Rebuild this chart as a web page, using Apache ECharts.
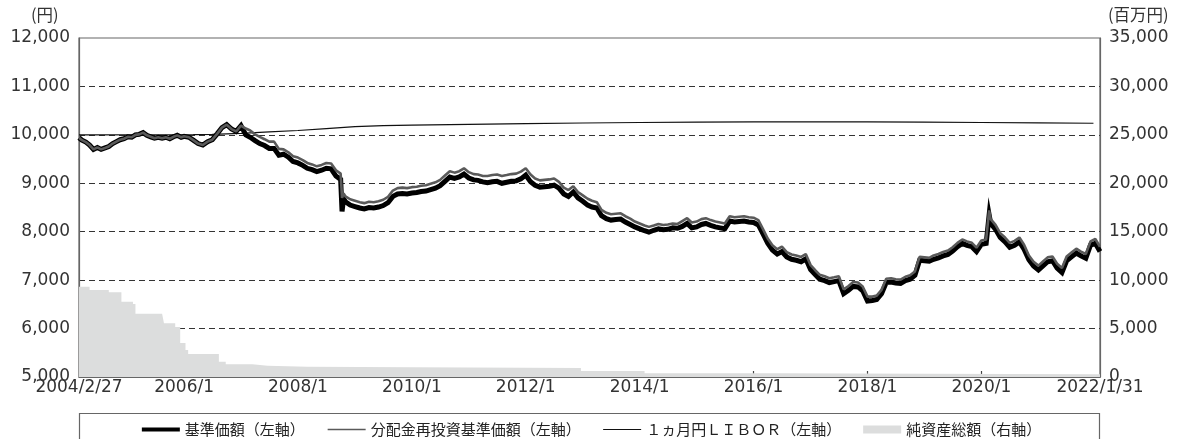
<!DOCTYPE html>
<html>
<head>
<meta charset="utf-8">
<script src="https://cdn.jsdelivr.net/npm/echarts@6/dist/echarts.min.js"></script>
<style>
  html, body { margin: 0; padding: 0; background: #fff; }
  #chart { width: 1181px; height: 439px; }
</style>
</head>
<body>
<div id="chart"></div>
<script>
(function () {
    'use strict';

    // x軸 目盛・ラベル
    var xTickDates = ['2006-01-01', '2008-01-01', '2010-01-01', '2012-01-01', '2014-01-01', '2016-01-01', '2018-01-01', '2020-01-01'];
    var xLabelDates = ['2004-02-27', '2006-01-01', '2008-01-01', '2010-01-01', '2012-01-01', '2014-01-01', '2016-01-01', '2018-01-01', '2020-01-01', '2022-01-31'];
    var xLabels = ['2004/2/27', '2006/1', '2008/1', '2010/1', '2012/1', '2014/1', '2016/1', '2018/1', '2020/1', '2022/1/31'];

    // 基準価額 / 分配金再投資基準価額 (円)
    var navDates = [
        '2004-02-27', '2004-03-17', '2004-04-11', '2004-05-05', '2004-05-30', '2004-06-24', '2004-07-18', '2004-08-12', '2004-09-05', '2004-09-30', '2004-10-24', '2004-11-17', '2004-12-12',
        '2005-01-05', '2005-01-30', '2005-02-23', '2005-03-19', '2005-04-13', '2005-05-07', '2005-06-01', '2005-06-25', '2005-07-19', '2005-08-13', '2005-09-06', '2005-10-01', '2005-10-25', '2005-11-18', '2005-12-13',
        '2006-01', '2006-02', '2006-03', '2006-04', '2006-05', '2006-06', '2006-07', '2006-08', '2006-09', '2006-10', '2006-11', '2006-12',
        '2007-01', '2007-02', '2007-03', '2007-04', '2007-05', '2007-06', '2007-07', '2007-08', '2007-09', '2007-10', '2007-11', '2007-12',
        '2008-01', '2008-02', '2008-03', '2008-04', '2008-05', '2008-06', '2008-07', '2008-08', '2008-09', '2008-10', '2008-10-10', '2008-10-20', '2008-11', '2008-12',
        '2009-01', '2009-02', '2009-03', '2009-04', '2009-05', '2009-06', '2009-07', '2009-08', '2009-09', '2009-10', '2009-11', '2009-12',
        '2010-01', '2010-02', '2010-03', '2010-04', '2010-05', '2010-06', '2010-07', '2010-08', '2010-09', '2010-10', '2010-11', '2010-12',
        '2011-01', '2011-02', '2011-03', '2011-04', '2011-05', '2011-06', '2011-07', '2011-08', '2011-09', '2011-10', '2011-11', '2011-12',
        '2012-01', '2012-02', '2012-03', '2012-04', '2012-05', '2012-06', '2012-07', '2012-08', '2012-09', '2012-10', '2012-11', '2012-12',
        '2013-01', '2013-02', '2013-03', '2013-04', '2013-05', '2013-06', '2013-07', '2013-08', '2013-09', '2013-10', '2013-11', '2013-12',
        '2014-01', '2014-02', '2014-03', '2014-04', '2014-05', '2014-06', '2014-07', '2014-08', '2014-09', '2014-10', '2014-11', '2014-12',
        '2015-01', '2015-02', '2015-03', '2015-04', '2015-05', '2015-06', '2015-07', '2015-08', '2015-09', '2015-10', '2015-11', '2015-12',
        '2016-01', '2016-02', '2016-03', '2016-04', '2016-05', '2016-06', '2016-07', '2016-08', '2016-09', '2016-10', '2016-11', '2016-12',
        '2017-01', '2017-02', '2017-03', '2017-04', '2017-05', '2017-06', '2017-07', '2017-08', '2017-09', '2017-10', '2017-11', '2017-12',
        '2018-01', '2018-02', '2018-03', '2018-04', '2018-05', '2018-06', '2018-07', '2018-08', '2018-09', '2018-10', '2018-11', '2018-12',
        '2019-01', '2019-02', '2019-03', '2019-04', '2019-05', '2019-06', '2019-07', '2019-08', '2019-09', '2019-10', '2019-11', '2019-12',
        '2020-01', '2020-02', '2020-02-20', '2020-03', '2020-04', '2020-05', '2020-06', '2020-07', '2020-08', '2020-09', '2020-10', '2020-11', '2020-12',
        '2021-01', '2021-02', '2021-03', '2021-04', '2021-05', '2021-06', '2021-07', '2021-08', '2021-09', '2021-10', '2021-11', '2021-12',
        '2022-01', '2022-01-31'
    ];
    var navValues = [
        9940, 9890, 9850, 9790, 9700, 9740, 9700, 9730, 9760, 9820, 9860, 9900, 9920,
        9960, 9950, 10000, 10010, 10045, 9990, 9960, 9930, 9950, 9930, 9950, 9920, 9960, 9990, 9950,
        9970, 9950, 9890, 9820, 9790, 9860, 9900, 10020, 10150, 10210, 10120, 10070,
        10190, 10000, 9950, 9880, 9820, 9780, 9720, 9720, 9580, 9600, 9540, 9450,
        9420, 9370, 9310, 9280, 9240, 9270, 9310, 9300, 9150, 9080, 8420, 8680, 8620, 8550,
        8520, 8490, 8470, 8500, 8490, 8510, 8540, 8600, 8730, 8780, 8790, 8780,
        8800, 8810, 8830, 8840, 8870, 8900, 8950, 9040, 9130, 9100, 9130, 9190,
        9110, 9070, 9060, 9030, 9010, 9030, 9040, 9000, 9020, 9040, 9050, 9090,
        9170, 9030, 8960, 8920, 8930, 8940, 8960, 8900, 8780, 8730, 8820, 8700,
        8630, 8550, 8510, 8490, 8330, 8270, 8240, 8250, 8260, 8200, 8150, 8100,
        8060, 8020, 7990, 8030, 8060, 8040, 8050, 8080, 8070, 8110, 8170, 8080,
        8100, 8150, 8170, 8130, 8100, 8080, 8060, 8220, 8200, 8210, 8220, 8200,
        8190, 8140, 7960, 7760, 7620, 7540, 7590, 7480, 7430, 7410, 7380, 7440,
        7220, 7110, 7020, 6990, 6950, 6970, 6990, 6720, 6790, 6870, 6860, 6780,
        6570, 6580, 6600, 6720, 6950, 6960, 6940, 6930, 6990, 7020, 7100, 7410,
        7400, 7390, 7430, 7460, 7500, 7530, 7600, 7690, 7760, 7720, 7690, 7590,
        7740, 7760, 8350, 8170, 8050, 7880, 7790, 7680, 7720, 7790, 7640, 7420, 7290,
        7210, 7300, 7380, 7400, 7250, 7160, 7400, 7480, 7560, 7500, 7450, 7720,
        7760, 7590
    ];
    var reinvValues = [
        9940, 9890, 9850, 9790, 9700, 9740, 9700, 9730, 9760, 9820, 9860, 9900, 9920,
        9960, 9950, 10000, 10010, 10045, 9990, 9960, 9930, 9950, 9930, 9950, 9920, 9960, 9990, 9950,
        9970, 9950, 9890, 9820, 9790, 9860, 9900, 10020, 10150, 10210, 10120, 10070,
        10190, 10130, 10090, 10010, 9960, 9910, 9860, 9860, 9710, 9700, 9640, 9560,
        9530, 9480, 9420, 9390, 9350, 9380, 9420, 9410, 9270, 9200, 8700, 8790, 8730, 8670,
        8640, 8610, 8590, 8620, 8610, 8630, 8660, 8720, 8850, 8900, 8910, 8900,
        8920, 8930, 8950, 8960, 8990, 9020, 9070, 9160, 9250, 9220, 9250, 9310,
        9230, 9190, 9180, 9150, 9150, 9170, 9180, 9150, 9170, 9190, 9200, 9240,
        9310, 9180, 9100, 9060, 9070, 9080, 9100, 9030, 8910, 8860, 8940, 8820,
        8750, 8680, 8640, 8610, 8450, 8390, 8360, 8370, 8380, 8320, 8270, 8210,
        8170, 8130, 8100, 8130, 8160, 8140, 8150, 8170, 8160, 8220, 8280, 8190,
        8210, 8260, 8280, 8240, 8210, 8190, 8170, 8320, 8300, 8310, 8320, 8300,
        8290, 8240, 8060, 7860, 7720, 7640, 7690, 7580, 7530, 7510, 7480, 7540,
        7310, 7200, 7110, 7080, 7040, 7060, 7080, 6810, 6880, 6960, 6950, 6870,
        6660, 6660, 6680, 6800, 7030, 7040, 7020, 7010, 7070, 7100, 7180, 7480,
        7470, 7460, 7510, 7540, 7580, 7610, 7680, 7770, 7840, 7800, 7770, 7670,
        7820, 7840, 8440, 8260, 8140, 7970, 7880, 7770, 7810, 7880, 7730, 7510, 7380,
        7300, 7390, 7470, 7490, 7340, 7250, 7490, 7570, 7650, 7590, 7540, 7800,
        7850, 7690
    ];

    // 1ヵ月円LIBOR (円換算)
    var liborDates = ['2004-02-27', '2006-03-01', '2006-07-01', '2007-01-01', '2007-07-01', '2008-01-01', '2008-07-01', '2009-01-01', '2009-07-01', '2010-01-01', '2011-01-01', '2012-01-01', '2013-01-01', '2014-01-01', '2015-01-01', '2016-01-01', '2017-01-01', '2018-01-01', '2019-01-01', '2020-01-01', '2021-01-01', '2021-12-20'];
    var liborValues = [10000, 10005, 10010, 10030, 10060, 10090, 10130, 10170, 10190, 10200, 10215, 10230, 10245, 10255, 10262, 10268, 10270, 10268, 10262, 10255, 10247, 10240];

    // 純資産総額 (百万円)
    var assetDates = ['2004-02-27', '2004-05-05', '2004-09-05', '2004-11-25', '2005-02-07', '2005-02-23', '2005-08-13', '2005-08-25', '2005-11-05', '2005-12-07', '2006-01-10', '2006-01-27', '2006-08-12', '2006-09-25', '2007-03-15', '2007-06-20', '2008-03-01', '2010-01-01', '2012-01-01', '2012-12-20', '2014-02-01', '2016-06-01', '2019-01-01', '2022-01-31'];
    var assetValues = [9320, 8980, 8740, 7770, 7530, 6530, 6330, 5540, 5160, 3500, 2790, 2370, 1580, 1310, 1170, 1050, 1000, 960, 940, 620, 380, 330, 280, 250];

    var FONT_NUM = 'DejaVu Sans, Noto Sans CJK JP, sans-serif';
    var FONT_JP = 'Noto Sans CJK JP, sans-serif';

    // 日付文字列 -> UTCタイムスタンプ
    var parseT = function (s) {
        var p = s.split('-');
        return Date.UTC(+p[0], (+p[1] || 1) - 1, +p[2] || 1);
    };

    var zip = function (dates, values) {
        return dates.map(function (d, i) { return [parseT(d), values[i]]; });
    };

    var commas = function (v) {
        return String(v).replace(/\B(?=(\d{3})+(?!\d))/g, ',');
    };

    var chart = echarts.init(document.getElementById('chart'), null, { renderer: 'canvas' });

    chart.setOption({
        animation: false,
        grid: {
            left: 79, right: 81, top: 38, bottom: 62,
            show: true, borderColor: '#666', borderWidth: 1.2
        },
        graphic: [
            { type: 'text', left: 31, top: 6, style: { text: '(円)', font: '16.5px ' + FONT_JP, fill: '#333' } },
            { type: 'text', left: 1108, top: 6, style: { text: '(百万円)', font: '16.5px ' + FONT_JP, fill: '#333' } },
            { type: 'rect', shape: { x: 79.5, y: 413.5, width: 1020, height: 40 }, style: { fill: 'none', stroke: '#666', lineWidth: 1.2 }, z: -1 }
        ],
        legend: {
            top: 417, left: 'center',
            itemWidth: 38, itemHeight: 8, itemGap: 22,
            textStyle: { fontFamily: FONT_JP, fontSize: 15, color: '#222' },
            data: [
                { name: '基準価額（左軸）', lineStyle: { width: 4 }, itemStyle: { opacity: 0 } },
                { name: '分配金再投資基準価額（左軸）', lineStyle: { width: 1.6 }, itemStyle: { opacity: 0 } },
                { name: '１ヵ月円ＬＩＢＯＲ（左軸）', lineStyle: { width: 1 }, itemStyle: { opacity: 0 } },
                { name: '純資産総額（右軸）', icon: 'rect', itemStyle: { color: '#dcdddd' } }
            ]
        },
        xAxis: {
            type: 'value',
            min: parseT(xLabelDates[0]),
            max: parseT(xLabelDates[xLabelDates.length - 1]),
            axisLine: { show: true, lineStyle: { color: '#666', width: 1.2 } },
            axisTick: {
                show: true, inside: true, length: 6,
                customValues: xTickDates.map(parseT),
                lineStyle: { color: '#444', width: 1.2 }
            },
            axisLabel: {
                customValues: xLabelDates.map(parseT),
                showMinLabel: true, showMaxLabel: true, hideOverlap: false,
                margin: 2, fontSize: 17, fontFamily: FONT_NUM, color: '#333',
                formatter: function (value) {
                    for (var i = 0; i < xLabelDates.length; i++) {
                        if (Math.abs(parseT(xLabelDates[i]) - value) < 86400000) {
                            return xLabels[i];
                        }
                    }
                    return '';
                }
            },
            splitLine: { show: false }
        },
        yAxis: [
            {
                type: 'value', min: 5000, max: 12000, interval: 1000,
                axisLine: { show: true, lineStyle: { color: '#666', width: 1.2 } },
                axisTick: { show: false },
                axisLabel: { margin: 9, fontSize: 17, fontFamily: FONT_NUM, color: '#333', formatter: commas },
                splitLine: {
                    show: true, showMinLine: false, showMaxLine: false,
                    lineStyle: { color: '#333', width: 1.2, type: [6, 4] }
                }
            },
            {
                type: 'value', min: 0, max: 35000, interval: 5000,
                axisLine: { show: true, lineStyle: { color: '#666', width: 1.2 } },
                axisTick: { show: false },
                axisLabel: { margin: 9, fontSize: 17, fontFamily: FONT_NUM, color: '#333', formatter: commas },
                splitLine: { show: false }
            }
        ],
        series: [
            {
                name: '純資産総額（右軸）', type: 'line', yAxisIndex: 1, step: 'end',
                data: zip(assetDates, assetValues),
                symbol: 'none', color: '#dcdddd',
                lineStyle: { width: 0 },
                areaStyle: { color: '#dcdddd', opacity: 1 },
                z: 1
            },
            {
                name: '１ヵ月円ＬＩＢＯＲ（左軸）', type: 'line',
                data: zip(liborDates, liborValues),
                symbol: 'none', color: '#111',
                lineStyle: { width: 1.2, color: '#111' },
                z: 2
            },
            {
                name: '基準価額（左軸）', type: 'line',
                data: zip(navDates, navValues),
                symbol: 'none', color: '#000',
                lineStyle: { width: 5, color: '#000', join: 'miter' },
                z: 3
            },
            {
                name: '分配金再投資基準価額（左軸）', type: 'line',
                data: zip(navDates, reinvValues),
                symbol: 'none', color: '#5a5a5a',
                lineStyle: { width: 2.6, color: '#5a5a5a' },
                z: 4
            }
        ]
    });
})();
</script>
</body>
</html>
